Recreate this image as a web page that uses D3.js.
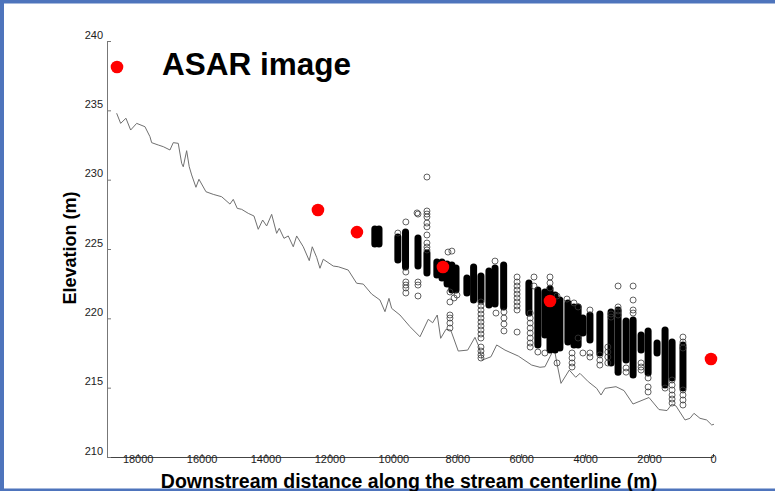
<!DOCTYPE html>
<html>
<head>
<meta charset="utf-8">
<script src="https://cdn.jsdelivr.net/npm/d3@7"></script>
<style>
  html, body { margin: 0; padding: 0; background: #fff; }
  svg { display: block; font-family: "Liberation Sans", Arial, sans-serif; }
</style>
</head>
<body>
<svg id="chart" width="775" height="491"></svg>
<script>
// Stream centerline bed profile: [distance downstream (m), elevation (m)]
const profile = [
  [18658,234.79],[18533,234.06],[18367,234.43],[18220,233.58],[18032,234.06],[17773,233.82],
  [17616,233.10],[17563,232.67],[17357,232.50],[17200,232.38],[16990,232.14],[16887,232.67],
  [16731,232.62],[16624,231.18],[16574,230.93],[16468,232.09],[16387,230.93],[16311,230.34],
  [16177,229.45],[16083,230.03],[15864,229.13],[15636,228.94],[15373,228.77],[15113,228.24],
  [15010,228.58],[14885,227.93],[14747,227.86],[14540,227.57],[14362,227.38],[14228,226.42],
  [14090,227.09],[13965,226.66],[13808,227.50],[13652,226.13],[13570,226.49],[13423,225.77],
  [13289,225.94],[13132,225.16],[13026,225.94],[12819,225.16],[12632,224.16],[12538,225.16],
  [12400,224.40],[12297,223.61],[12194,224.26],[11881,223.77],[11724,223.72],[11412,223.48],
  [11149,222.53],[10942,222.47],[10679,221.75],[10420,221.32],[10263,220.48],[10138,221.44],
  [10054,220.72],[9794,220.24],[9481,219.40],[9168,218.67],[8908,219.93],[8771,219.68],
  [8627,220.24],[8520,218.56],[8354,219.21],[8207,219.16],[7970,217.64],[7675,217.71],
  [7447,218.63],[7322,217.95],[7219,216.99],[6946,217.23],[6768,218.08],[6508,217.71],
  [6092,217.28],[5673,216.63],[5413,216.47],[5257,216.51],[5100,217.23],[4966,217.84],
  [4891,216.85],[4756,215.31],[4496,216.27],[4296,215.75],[4162,216.03],[3902,215.43],
  [3639,214.95],[3504,214.47],[3379,214.95],[3035,215.07],[2785,214.79],[2503,213.82],
  [2003,214.29],[1690,213.42],[1439,213.35],[1283,213.82],[1158,213.68],[876,212.67],
  [720,212.79],[595,213.15],[407,212.79],[197,212.67],[41,212.31],[-30,212.36]
];

// Water-surface elevations from the ASAR image: [distance (m), elevation (m)]
const asar = [
  [12360,227.81],[11140,226.22],[8450,223.70],[5100,221.25],[63,217.07]
];

// Stacked observations at one station, drawn as one band: [distance, min elev, max elev]
const stations = [
  [10580,225.36,226.44],[10450,225.36,226.44],[9860,224.21,225.87],[9620,223.70,226.23],
  [9230,223.77,225.79],[8950,223.27,224.71],[8640,223.12,224.06],[8480,222.91,224.06],
  [8320,222.47,223.92],[8170,222.04,223.85],[8040,222.04,223.63],[7700,221.83,222.91],
  [7490,221.32,223.70],[7260,221.32,223.05],[7010,220.96,223.41],[6820,221.03,223.63],
  [6550,220.82,223.85],[5760,220.38,222.55],[5480,218.08,222.04],[5260,218.80,221.90],
  [5100,217.72,222.11],[4940,217.72,221.68],[4790,217.86,221.32],[4540,218.29,221.11],
  [4350,218.08,220.82],[4220,218.08,220.82],[4070,218.94,220.02],[3850,218.44,220.24],
  [3540,217.50,220.31],[3190,216.78,220.46],[2970,216.12,220.60],[2720,216.99,219.81],
  [2500,215.91,219.88],[2250,217.72,218.80],[2030,216.06,219.09],[1750,217.50,218.22],
  [1500,215.19,219.16],[1280,215.70,218.29],[940,214.97,218.08]
];

// Isolated observations: [distance, elevation]
const sparse = [
  [9860,226.15],[9610,226.95],[9610,223.34],[9610,222.62],[9610,222.40],[9610,222.19],[9610,221.83],
  [9230,227.52],[9260,227.60],[9230,222.62],[9230,222.40],[9230,221.61],
  [8950,230.19],[8950,227.74],[8950,227.52],[8950,227.31],[8950,226.87],[8950,226.60],
  [8950,226.01],[8950,225.43],[8950,225.14],[8950,224.93],
  [8290,224.78],[8170,224.85],[8010,221.68],[8230,221.18],[8230,220.24],[8230,220.02],
  [8230,219.66],[8230,219.30],[8230,221.90],[8100,221.47],[6820,224.13],
  [7260,221.18],[7260,220.89],[7260,220.60],[7260,220.31],[7260,220.02],[7260,219.73],
  [7260,219.45],[7260,219.16],[7260,218.87],[7260,218.58],[7260,217.93],[7260,217.64],
  [7260,217.36],[7260,217.14],
  [6790,220.38],[6540,220.46],[6540,220.02],[6540,219.59],[6540,219.09],
  [6130,222.98],[6130,222.62],[6130,222.33],[6130,222.04],[6130,221.75],[6130,221.47],
  [6130,221.18],[6130,220.89],[6130,220.60],[6130,219.01],
  [5720,220.38],[5720,220.02],[5720,219.66],[5720,219.30],[5720,218.94],[5720,218.58],
  [5720,218.22],[5720,217.93],
  [5600,222.98],[5600,222.33],[5100,222.98],[5100,222.55],[5100,222.19],
  [4880,221.61],[4570,221.39],[4350,221.11],[4220,220.82],[3850,220.60],
  [3190,220.31],[3190,220.09],[2970,222.33],[2970,220.82],[2970,220.53],[2970,220.24],
  [2500,222.33],[2500,221.32],[2500,220.60],[2500,220.38],
  [5480,217.57],[5260,217.50],[4880,216.78],[4410,217.50],[4410,217.14],[4410,216.78],[4410,216.49],
  [4220,218.58],[4070,217.50],[3850,217.50],[3850,217.21],
  [3540,217.36],[3540,216.99],[3540,216.63],
  [3290,217.93],[3290,217.57],[3290,217.21],[3290,216.78],
  [2720,216.42],[2720,216.12],[2250,216.78],[2250,216.49],[2250,216.27],
  [2030,215.70],[2030,215.05],[2030,214.69],[1500,214.97],
  [1280,215.55],[1280,215.19],[1280,214.83],[1280,214.47],[1280,214.18],[1280,213.89],
  [940,218.65],[940,218.29],[940,217.86],[940,214.83],[940,214.47],[940,214.11],[940,213.75]
];

const xTicks = [18000,16000,14000,12000,10000,8000,6000,4000,2000,0];
const yTicks = [210,215,220,225,230,235,240];

const svg = d3.select("#chart");

// slide frame
const frame = "#4e74bc";
svg.append("rect").attr("x",0).attr("y",0).attr("width",775).attr("height",3.5).attr("fill",frame);
svg.append("rect").attr("x",0).attr("y",0).attr("width",4).attr("height",491).attr("fill",frame);
svg.append("rect").attr("x",0).attr("y",488.5).attr("width",775).attr("height",2.5).attr("fill",frame);

const x = d3.scaleLinear().domain([18960, 0]).range([107, 713]);
const y = d3.scaleLinear().domain([210, 240]).range([457, 41]);

// axes
const gx = svg.append("g").attr("transform", "translate(0,457)")
  .call(d3.axisBottom(x).tickValues(xTicks).tickSize(-3).tickSizeOuter(0).tickFormat(d3.format("d")));
gx.select(".domain").attr("stroke", "#444");
gx.selectAll(".tick line").attr("stroke", "#444");
gx.selectAll(".tick text").attr("y", 0).attr("dy", "6px")
  .attr("font-size", "11px").attr("fill", "#222").attr("font-family", "Liberation Sans, Arial, sans-serif");

const gy = svg.append("g").attr("transform", "translate(107,0)")
  .call(d3.axisLeft(y).tickValues(yTicks).tickSize(-4).tickSizeOuter(0));
gy.select(".domain").attr("stroke", "#777");
gy.selectAll(".tick line").attr("stroke", "#777");
gy.selectAll(".tick text").attr("x", -4).attr("dy", "-3px")
  .attr("font-size", "11px").attr("fill", "#222").attr("font-family", "Liberation Sans, Arial, sans-serif");

// bed profile
svg.append("path")
  .datum(profile)
  .attr("fill", "none")
  .attr("stroke", "#707070")
  .attr("stroke-width", 1)
  .attr("d", d3.line().x(d => x(d[0])).y(d => y(d[1])));

// stacked observation bands
svg.append("g").selectAll("line")
  .data(stations).join("line")
  .attr("x1", d => x(d[0])).attr("x2", d => x(d[0]))
  .attr("y1", d => y(d[2])).attr("y2", d => y(d[1]))
  .attr("stroke", "#000").attr("stroke-width", 7).attr("stroke-linecap", "round");

// isolated observations
svg.append("g").selectAll("circle")
  .data(sparse).join("circle")
  .attr("cx", d => x(d[0])).attr("cy", d => y(d[1])).attr("r", 3)
  .attr("fill", "none").attr("stroke", "#3a3a3a").attr("stroke-width", 0.8);

// ASAR water levels
svg.append("g").selectAll("circle")
  .data(asar).join("circle")
  .attr("cx", d => x(d[0])).attr("cy", d => y(d[1])).attr("r", 6.3)
  .attr("fill", "#ff0000");

// legend
svg.append("circle").attr("cx", 117).attr("cy", 67).attr("r", 6.3).attr("fill", "#ff0000");
svg.append("text").attr("x", 162).attr("y", 75)
  .attr("font-size", "31.5px").attr("font-weight", "bold").attr("fill", "#000")
  .text("ASAR image");

// axis titles
svg.append("text")
  .attr("transform", "translate(76,248) rotate(-90)")
  .attr("text-anchor", "middle")
  .attr("font-size", "18px").attr("font-weight", "bold").attr("fill", "#000")
  .text("Elevation (m)");
svg.append("text")
  .attr("x", 409).attr("y", 488)
  .attr("text-anchor", "middle")
  .attr("font-size", "19.5px").attr("font-weight", "bold").attr("fill", "#000")
  .text("Downstream distance along the stream centerline (m)");
</script>
</body>
</html>
